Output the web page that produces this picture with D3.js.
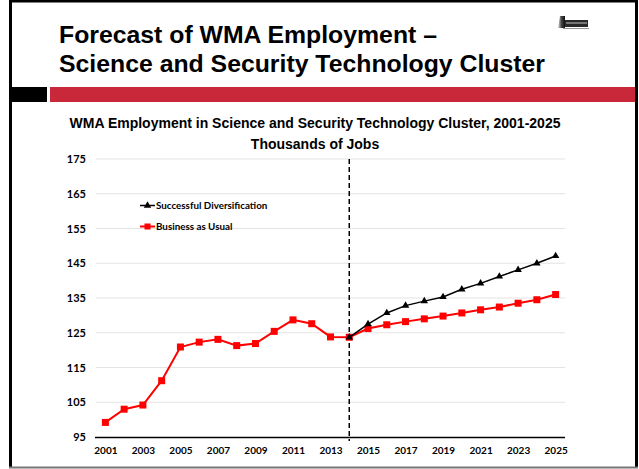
<!DOCTYPE html>
<html><head><meta charset="utf-8">
<script src="https://cdn.jsdelivr.net/npm/d3@7"></script>
<style>html,body{margin:0;padding:0;background:#fff;}svg{display:block;}</style>
</head><body>
<script>
const years = d3.range(2001, 2026).map(String);
const tickYears = ["2001","2003","2005","2007","2009","2011","2013","2015","2017","2019","2021","2023","2025"];
const yTicks = [95,105,115,125,135,145,155,165,175];
const businessAsUsual = [99.2,103.0,104.2,111.2,120.9,122.3,123.1,121.3,121.9,125.4,128.7,127.6,123.8,123.7,
  126.2,127.3,128.2,129.0,129.8,130.7,131.6,132.4,133.5,134.5,136.0];
const diversYears = ["2014","2015","2016","2017","2018","2019","2020","2021","2022","2023","2024","2025"];
const successfulDiversification = [123.7,127.5,130.7,132.8,134.1,135.3,137.5,139.2,141.2,143.1,145.0,147.1];
const seriesNames = ["Successful Diversification","Business as Usual"];
const forecastStart = "2014";

const W = 639, H = 469;
const svg = d3.select("body").append("svg").attr("width", W).attr("height", H);

// slide frame
svg.append("line").attr("x1",10.5).attr("x2",10.5).attr("y1",0).attr("y2",468).attr("stroke","#000").attr("stroke-width",3);
svg.append("line").attr("x1",9).attr("x2",638).attr("y1",1).attr("y2",1).attr("stroke","#000").attr("stroke-width",3);
svg.append("line").attr("x1",636.5).attr("x2",636.5).attr("y1",0).attr("y2",468).attr("stroke","#000").attr("stroke-width",3);
svg.append("line").attr("x1",9).attr("x2",638).attr("y1",467.5).attr("y2",467.5).attr("stroke","#777").attr("stroke-width",2);

// header bars
svg.append("rect").attr("x",12).attr("y",87).attr("width",35).attr("height",15).attr("fill","#000");
svg.append("rect").attr("x",50).attr("y",87).attr("width",585).attr("height",15).attr("fill","#C8283A");

// title
const tFont = "'Liberation Sans', Arial, sans-serif";
svg.append("text").attr("x",59).attr("y",43).attr("font-family",tFont).attr("font-weight","bold").attr("font-size",24.8).attr("fill","#000").text("Forecast of WMA Employment –");
svg.append("text").attr("x",59).attr("y",72).attr("font-family",tFont).attr("font-weight","bold").attr("font-size",24.8).attr("fill","#000").text("Science and Security Technology Cluster");

// logo
const defs = svg.append("defs");
const grad = defs.append("linearGradient").attr("id","lg1").attr("x1","0").attr("x2","1").attr("y1","0").attr("y2","0");
grad.append("stop").attr("offset","0").attr("stop-color","#ddd");
grad.append("stop").attr("offset","0.5").attr("stop-color","#444");
grad.append("stop").attr("offset","1").attr("stop-color","#111");
const lg = svg.append("g").attr("transform","translate(558,16)");
lg.append("path").attr("d","M2,0H7V12H0Z").attr("fill","url(#lg1)");
lg.append("rect").attr("x",7).attr("y",4).attr("width",23).attr("height",7).attr("fill","#2a2a2a");
lg.append("rect").attr("x",8).attr("y",6).attr("width",21).attr("height",2).attr("fill","#777");
lg.append("line").attr("x1",5).attr("x2",31).attr("y1",12.5).attr("y2",12.5).attr("stroke","#999").attr("stroke-width",1);

// chart titles
svg.append("text").attr("x",315).attr("y",128).attr("text-anchor","middle").attr("font-family",tFont).attr("font-weight","bold").attr("font-size",14).attr("fill","#000").text("WMA Employment in Science and Security Technology Cluster, 2001-2025");
svg.append("text").attr("x",315).attr("y",149).attr("text-anchor","middle").attr("font-family",tFont).attr("font-weight","bold").attr("font-size",14).attr("fill","#000").text("Thousands of Jobs");

// scales
const x = d3.scalePoint().domain(years).range([96,565]).padding(0.5);
const y = d3.scaleLinear().domain([95,175]).range([437,159]);
const aFont = "Lato, 'Open Sans', sans-serif";

// gridlines
svg.append("g").selectAll("line").data(yTicks.filter(d=>d>95)).join("line")
  .attr("x1",96).attr("x2",565).attr("y1",d=>y(d)).attr("y2",d=>y(d))
  .attr("stroke","#e3e3e3").attr("stroke-width",1.2);

// y axis labels
const yAxis = svg.append("g").attr("transform","translate(86,0)")
  .call(d3.axisLeft(y).tickValues(yTicks).tickSize(0).tickPadding(0));
yAxis.select(".domain").remove();
yAxis.selectAll("text").attr("font-family",aFont).attr("font-weight","bold").attr("font-size",11).attr("fill","#000");

// x axis
const xAxis = svg.append("g").attr("transform","translate(0,437)")
  .call(d3.axisBottom(x).tickValues(tickYears).tickSize(0).tickPadding(10));
xAxis.select(".domain").attr("d","M95,0.5H565").attr("stroke","#000").attr("stroke-width",1.5);
xAxis.selectAll("text").attr("font-family",aFont).attr("font-weight","bold").attr("font-size",10).attr("fill","#000");

// dashed forecast line
svg.append("line").attr("x1",x(forecastStart)).attr("x2",x(forecastStart)).attr("y1",y(175)).attr("y2",441)
  .attr("stroke","#000").attr("stroke-width",1.5).attr("stroke-dasharray","5,3");

// series
const line = d3.line().x(d=>x(d[0])).y(d=>y(d[1]));
const bau = years.map((yr,i)=>[yr,businessAsUsual[i]]);
const div = diversYears.map((yr,i)=>[yr,successfulDiversification[i]]);

svg.append("path").datum(bau).attr("d",line).attr("fill","none").attr("stroke","#FF0000").attr("stroke-width",2);
svg.append("g").selectAll("rect").data(bau).join("rect")
  .attr("x",d=>x(d[0])-3.5).attr("y",d=>y(d[1])-3.5).attr("width",7).attr("height",7).attr("fill","#FF0000");

svg.append("path").datum(div).attr("d",line).attr("fill","none").attr("stroke","#000").attr("stroke-width",1.5);
const tri = d3.symbol().type(d3.symbolTriangle).size(24);
svg.append("g").selectAll("path").data(div).join("path")
  .attr("transform",d=>`translate(${x(d[0])},${y(d[1])})`).attr("d",tri).attr("fill","#000");

// legend
const leg = svg.append("g");
leg.append("line").attr("x1",140).attr("x2",155).attr("y1",205.5).attr("y2",205.5).attr("stroke","#000").attr("stroke-width",1.5);
leg.append("path").attr("transform","translate(147.5,205.5)").attr("d",tri).attr("fill","#000");
leg.append("text").attr("x",156).attr("y",209).attr("font-family",aFont).attr("font-weight","bold").attr("font-size",9.8).attr("fill","#000").text(seriesNames[0]);
leg.append("line").attr("x1",140).attr("x2",155).attr("y1",226.5).attr("y2",226.5).attr("stroke","#FF0000").attr("stroke-width",2);
leg.append("rect").attr("x",144.5).attr("y",223.5).attr("width",6).attr("height",6).attr("fill","#FF0000");
leg.append("text").attr("x",156).attr("y",230).attr("font-family",aFont).attr("font-weight","bold").attr("font-size",9.8).attr("fill","#000").text(seriesNames[1]);
</script>
</body></html>
